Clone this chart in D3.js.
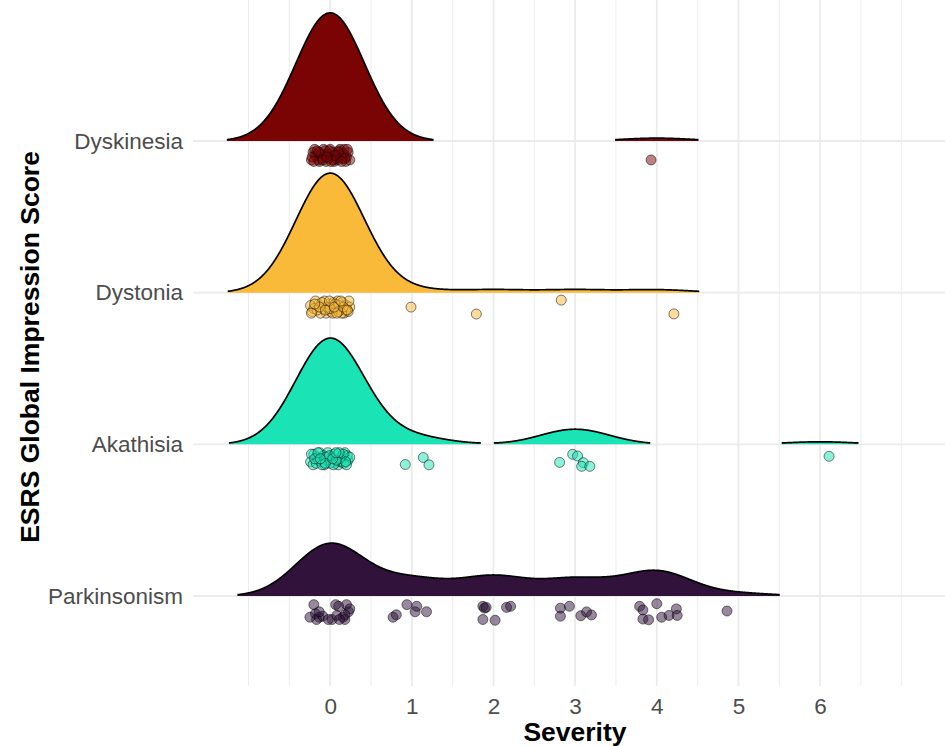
<!DOCTYPE html>
<html>
<head>
<meta charset="utf-8">
<script src="https://cdn.jsdelivr.net/npm/d3@7"></script>
<style>
    body { margin: 0; background: #fff; }
    svg { display: block; font-family: "Liberation Sans", Arial, Helvetica, sans-serif; }
</style>
</head>
<body>
<svg width="945" height="746" viewBox="0 0 945 746"></svg>
<script>
// Categories (top to bottom) and their fill colours
const categories = ["Dyskinesia", "Dystonia", "Akathisia", "Parkinsonism"];
const colors = ["#7A0403", "#FABA39", "#1AE4B6", "#30123B"];
const xTicks = [0, 1, 2, 3, 4, 5, 6];

// Jittered points: [severity as drawn, vertical jitter in band units]
// The underlying score is the nearest whole number.
const dyskinesiaPoints = [
    [-0.21,-0.02],[-0.15,0.03],[-0.08,-0.04],[0.02,0.01],[0.11,-0.03],[0.19,0.04],[-0.18,0.0],[-0.05,0.04],[0.07,-0.01],[0.15,0.02],
    [0.22,-0.02],[-0.23,0.03],[-0.11,-0.01],[0.0,-0.04],[0.09,0.03],[0.17,-0.04],[-0.02,0.02],[-0.13,0.04],[0.05,0.04],[0.13,0.0],
    [-0.19,-0.04],[-0.07,0.0],[0.03,-0.02],[0.2,0.01],[-0.16,-0.03],[-0.03,-0.01],[0.08,0.02],[0.24,0.03],[-0.1,0.02],[0.12,-0.04],
    [-0.22,0.01],[-0.06,-0.03],[0.04,0.03],[0.16,-0.01],[-0.14,-0.02],[0.01,0.04],[0.1,-0.02],[0.18,0.02],[-0.09,0.03],[-0.01,-0.03],
    [0.06,0.0],[0.14,0.04],[-0.2,0.04],[-0.04,0.01],[0.21,-0.04],
    [3.93,0.03]
];
const dystoniaPoints = [
    [-0.22,0.03],[-0.14,-0.02],[-0.05,0.04],[0.04,-0.03],[0.12,0.02],[0.2,-0.01],[-0.18,-0.04],[-0.09,0.01],[0.01,0.03],[0.09,-0.04],
    [0.17,0.04],[0.24,0.0],[-0.24,-0.01],[-0.12,0.04],[-0.02,-0.02],[0.07,0.01],[0.15,-0.03],[0.22,0.03],[-0.2,0.01],[-0.07,-0.04],
    [0.03,0.04],[0.11,-0.01],[0.19,0.02],[-0.16,0.02],[-0.04,0.0],[0.06,-0.02],[0.14,0.04],[-0.1,-0.03],[0.0,0.01],[0.1,0.03],
    [0.23,-0.04],[-0.23,0.04],[-0.13,0.0],[-0.01,-0.04],[0.08,0.04],[0.16,0.0],[-0.19,-0.02],[-0.06,0.02],[0.05,0.0],[0.13,-0.04],
    [0.21,0.02],
    [0.99,0.0],[1.79,0.046],[2.83,-0.046],[4.21,0.045]
];
const akathisiaPoints = [
    [-0.2,-0.03],[-0.11,0.02],[-0.03,-0.04],[0.06,0.03],[0.14,-0.02],[0.22,0.01],[-0.24,0.02],[-0.16,-0.01],[-0.07,0.04],[0.02,-0.01],
    [0.1,0.04],[0.18,-0.04],[-0.21,0.04],[-0.13,-0.04],[-0.04,0.01],[0.05,-0.03],[0.13,0.02],[0.21,-0.02],[-0.17,0.03],[-0.08,-0.02],
    [0.0,0.03],[0.09,-0.03],[0.17,0.03],[0.24,-0.01],[-0.23,-0.03],[-0.14,0.01],[-0.05,-0.01],[0.04,0.04],[0.12,0.0],[0.2,0.04],
    [-0.19,0.0],[-0.1,0.04],[-0.01,-0.02],[0.08,0.01],[0.16,-0.03],[-0.15,-0.04],[-0.06,0.03],[0.03,0.0],[0.11,-0.04],[0.19,0.02],
    [-0.12,0.0],[0.07,-0.04],
    [0.92,0.038],[1.14,-0.008],[1.21,0.04],
    [2.81,0.024],[2.97,-0.029],[3.03,-0.018],[3.1,0.026],[3.08,0.05],[3.18,0.05],
    [6.11,-0.016]
];
const parkinsonismPoints = [
    [-0.2,-0.038],[-0.18,0.022],[-0.135,0.045],[-0.167,0.06],[-0.09,0.038],[0.023,0.06],[0.068,-0.038],[0.081,0.033],[0.158,0.045],[0.18,0.06],
    [0.2,-0.038],[0.225,0.009],[0.24,-0.01],[-0.023,0.06],[0.104,-0.027],[-0.135,0.009],[-0.248,0.045],[0.18,0.029],[0.113,0.06],
    [0.77,0.045],[0.81,0.029],[0.94,-0.038],[1.04,0.009],[1.06,-0.027],[1.18,0.009],
    [1.87,-0.027],[1.89,-0.015],[1.91,-0.02],[1.87,0.06],[2.02,0.065],[2.16,-0.02],[2.21,-0.027],
    [2.82,-0.015],[2.82,0.038],[2.93,-0.027],[3.07,0.035],[3.14,0.01],[3.2,0.03],
    [3.79,-0.027],[3.83,-0.003],[3.83,0.057],[3.9,0.062],[4.0,-0.044],[4.06,0.045],[4.15,0.033],[4.24,-0.01],[4.25,0.033],
    [4.86,0.004]
];
const pointsByCategory = [dyskinesiaPoints, dystoniaPoints, akathisiaPoints, parkinsonismPoints];

// Density settings (joint bandwidth, cut-off relative to the tallest ridge)
const bandwidth = 0.42;
const relMinHeight = 0.0105;
const ridgeScale = 0.845;
const jitterOffset = 0.095;

const svg = d3.select("svg");
const width = parseInt(svg.attr("viewBox").split(' ')[2]);
const panel = { left: 193, right: width, top: 0, bottom: 686 };

const x = d3.scaleLinear().domain([-1.68, 7.53]).range([panel.left, panel.right]);
const y = d3.scalePoint().domain(categories).range([141, 596]);
const step = y.step();

// Gridlines
const grid = svg.append("g");
const minorBreaks = d3.range(-1, 7.01, 0.5).filter(v => !xTicks.includes(v));
grid.selectAll(".minor")
    .data(minorBreaks)
    .enter()
    .append("line")
    .attr("x1", d => x(d)).attr("x2", d => x(d))
    .attr("y1", panel.top).attr("y2", panel.bottom)
    .attr("stroke", "#ebebeb")
    .attr("stroke-width", 0.9);
grid.selectAll(".major")
    .data(xTicks)
    .enter()
    .append("line")
    .attr("x1", d => x(d)).attr("x2", d => x(d))
    .attr("y1", panel.top).attr("y2", panel.bottom)
    .attr("stroke", "#ebebeb")
    .attr("stroke-width", 1.8);
grid.selectAll(".hmajor")
    .data(categories)
    .enter()
    .append("line")
    .attr("x1", panel.left).attr("x2", panel.right)
    .attr("y1", d => y(d)).attr("y2", d => y(d))
    .attr("stroke", "#ebebeb")
    .attr("stroke-width", 1.8);

// Kernel density estimate on the whole-number scores
const gauss = u => Math.exp(-0.5 * u * u) / Math.sqrt(2 * Math.PI);
const evalGrid = d3.range(-1.7, 7.5, 0.005);
const densities = pointsByCategory.map(pts => {
    const scores = pts.map(p => Math.round(p[0]));
    return evalGrid.map(g => [g, d3.mean(scores, s => gauss((g - s) / bandwidth)) / bandwidth]);
});
const maxDensity = d3.max(densities, dens => d3.max(dens, d => d[1]));
const threshold = relMinHeight * maxDensity;
const h = d3.scaleLinear().domain([0, maxDensity]).range([0, ridgeScale * step]);

// Split a density into the runs that stay above the cut-off
function segments(dens) {
    const out = [];
    let current = [];
    dens.forEach(d => {
        if (d[1] > threshold) {
            current.push(d);
        } else if (current.length) {
            out.push(current);
            current = [];
        }
    });
    if (current.length) out.push(current);
    return out;
}

categories.forEach((cat, i) => {
    const base = y(cat);
    const g = svg.append("g");

    const area = d3.area()
        .x(d => x(d[0]))
        .y0(base)
        .y1(d => base - h(d[1]));
    const line = d3.line()
        .x(d => x(d[0]))
        .y(d => base - h(d[1]));

    const segs = segments(densities[i]);
    g.selectAll(".ridge")
        .data(segs)
        .enter()
        .append("path")
        .attr("d", area)
        .attr("fill", colors[i]);
    g.selectAll(".outline")
        .data(segs)
        .enter()
        .append("path")
        .attr("d", line)
        .attr("fill", "none")
        .attr("stroke", "#000")
        .attr("stroke-width", 1.7);

    // Jittered raw points under the ridge
    g.selectAll("circle")
        .data(pointsByCategory[i])
        .enter()
        .append("circle")
        .attr("cx", d => x(d[0]))
        .attr("cy", d => base + (jitterOffset + d[1]) * step)
        .attr("r", 5)
        .attr("fill", colors[i])
        .attr("fill-opacity", 0.5)
        .attr("stroke", "#000")
        .attr("stroke-opacity", 0.5)
        .attr("stroke-width", 1);
});

// Axes (labels only, theme_minimal style)
const xAxis = svg.append("g")
    .attr("transform", `translate(0,${panel.bottom})`)
    .call(d3.axisBottom(x).tickValues(xTicks).tickSize(0).tickPadding(12));
const yAxis = svg.append("g")
    .attr("transform", `translate(${panel.left},0)`)
    .call(d3.axisLeft(y).tickSize(0).tickPadding(10));
[xAxis, yAxis].forEach(ax => {
    ax.select(".domain").remove();
    ax.selectAll("text")
        .attr("font-family", "'Liberation Sans', Arial, Helvetica, sans-serif")
        .attr("font-size", "22.5px")
        .attr("fill", "#4d4d4d");
});

// Axis titles
svg.append("text")
    .attr("x", 575)
    .attr("y", 741)
    .attr("text-anchor", "middle")
    .attr("font-size", "26.5px")
    .attr("font-weight", "bold")
    .attr("fill", "#000")
    .text("Severity");

svg.append("text")
    .attr("transform", "translate(39,347) rotate(-90)")
    .attr("text-anchor", "middle")
    .attr("font-size", "26.5px")
    .attr("font-weight", "bold")
    .attr("fill", "#000")
    .text("ESRS Global Impression Score");
</script>
</body>
</html>
